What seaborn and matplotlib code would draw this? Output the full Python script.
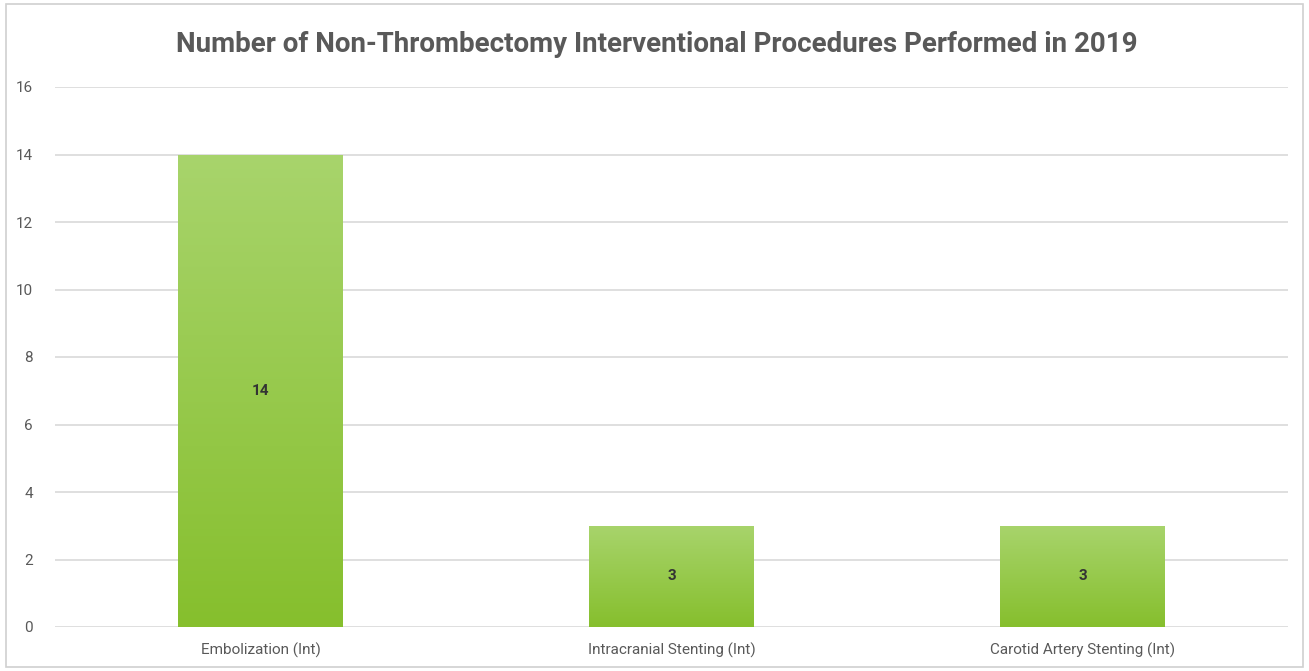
import numpy as np
import pandas as pd
import matplotlib
matplotlib.use("Agg")
import matplotlib.pyplot as plt
import seaborn as sns
from matplotlib.colors import LinearSegmentedColormap
from matplotlib.patches import Rectangle

# 資料
categories = ["Embolization (Int)", "Intracranial Stenting (Int)", "Carotid Artery Stenting (Int)"]
counts = [14, 3, 3]
yticks = [0, 2, 4, 6, 8, 10, 12, 14, 16]

df = pd.DataFrame({"procedure": categories, "count": counts})

sns.set_style("white")
plt.rcParams["font.family"] = ["Roboto", "DejaVu Sans"]

fig = plt.figure(figsize=(13.09, 6.71), dpi=100)
ax = fig.add_axes([55 / 1309, 1 - 627 / 671, 1233 / 1309, 540 / 671])

sns.barplot(data=df, x="procedure", y="count", color="#98c94c", width=0.40,
            saturation=1, ax=ax, zorder=3)

# 漸層填色
cmap = LinearSegmentedColormap.from_list("g", ["#86bf2d", "#a8d46c"])
grad = np.linspace(0, 1, 256).reshape(-1, 1)
for bar in ax.patches:
    x0, y0 = bar.get_x(), bar.get_y()
    w, h = bar.get_width(), bar.get_height()
    bar.set_facecolor("none")
    bar.set_edgecolor("none")
    im = ax.imshow(grad, cmap=cmap, aspect="auto", origin="lower",
                   extent=[x0, x0 + w, y0, y0 + h], zorder=3)
    im.set_clip_path(bar)
    # 數值標籤
    ax.text(x0 + w / 2, y0 + h / 2, f"{int(h)}", ha="center", va="center",
            fontsize=11, fontweight="bold", color="#333333", zorder=5)

ax.set_xlim(-0.5, 2.5)
ax.set_ylim(0, 16)
ax.set_yticks(yticks)
ax.grid(axis="y", color="#d9d9d9", linewidth=1.2, zorder=0)
ax.set_axisbelow(True)
for s in ax.spines.values():
    s.set_visible(False)
ax.set_xlabel("")
ax.set_ylabel("")
ax.tick_params(axis="both", length=0, labelsize=11, colors="#595959")
ax.tick_params(axis="x", pad=11)
ax.tick_params(axis="y", pad=16)
for lbl in ax.get_xticklabels():
    lbl.set_fontsize(11)

fig.text(0.502, 1 - 44 / 671, "Number of Non-Thrombectomy Interventional Procedures Performed in 2019",
         ha="center", va="center", fontsize=20, fontweight="bold", color="#595959")

# 外框
fig.patches.append(Rectangle((6 / 1309, 4 / 671), 1297 / 1309, 663 / 671,
                             transform=fig.transFigure, fill=False,
                             edgecolor="#d0d0d0", linewidth=1.2))

fig.savefig("out.png", dpi=100)
